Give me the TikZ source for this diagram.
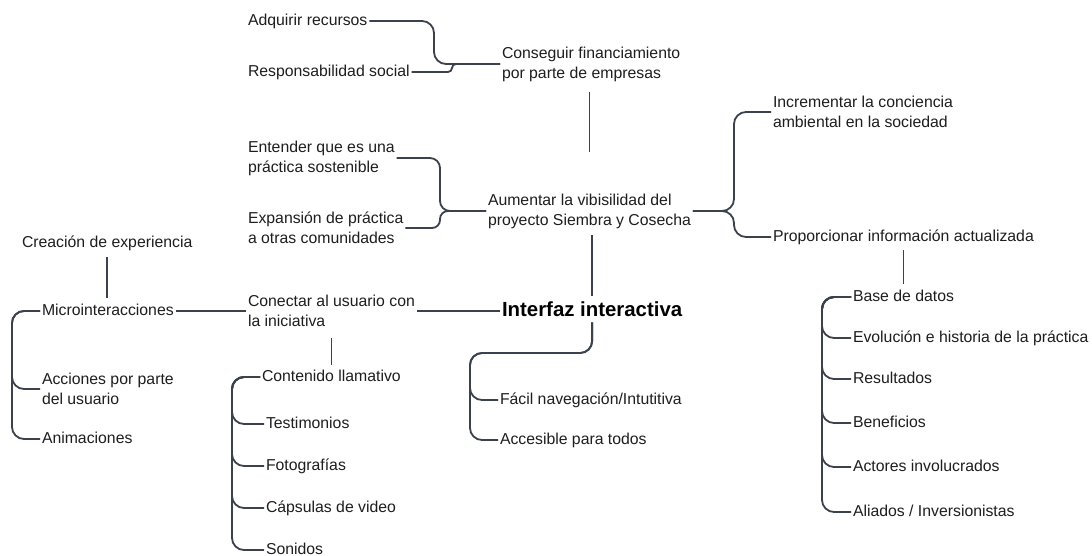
\documentclass[tikz,border=0pt]{standalone}
\usepackage{fontspec}
\setmainfont{Liberation Sans}
\usetikzlibrary{calc}
\definecolor{linkc}{HTML}{3B424C}
\definecolor{txtc}{HTML}{1E1E1E}
\begin{document}
\begin{tikzpicture}[x=1pt,y=-1pt,
  lbl/.style={anchor=west, inner sep=2pt, outer sep=0pt, text=txtc,
    font=\fontsize{15.8}{20}\selectfont, align=left},
  one/.style={lbl, text height=11.4pt, text depth=3.2pt},
  hub/.style={anchor=west, inner sep=2pt, outer sep=0pt, text=black,
    font=\fontsize{20.4}{24}\selectfont\bfseries, text height=14.6pt, text depth=4pt},
  link/.style={draw=linkc, line width=1.8pt, rounded corners=#1},
  link/.default=10pt]
\useasboundingbox[fill=white] (0,0) rectangle (1092,556);

% --- labels ---
\node[one] (adq)   at (246,21)  {Adquirir recursos};
\node[one] (resp)  at (246,72)  {Responsabilidad social};
\node[lbl] (cons)  at (500,64)  {Conseguir financiamiento\\por parte de empresas};
\node[lbl] (ent)   at (246,158) {Entender que es una\\práctica sostenible};
\node[lbl] (exp)   at (246,228) {Expansión de práctica\\a otras comunidades};
\node[lbl] (aum)   at (486,211) {Aumentar la vibisilidad del\\proyecto Siembra y Cosecha};
\node[lbl] (incr)  at (771,112) {Incrementar la conciencia\\ambiental en la sociedad};
\node[one] (prop)  at (771,237) {Proporcionar información actualizada};
\node[one] (crea)  at (20,243)  {Creación de experiencia};
\node[one] (micro) at (40,311)  {Microinteracciones};
\node[lbl] (con)   at (246,311) {Conectar al usuario con\\la iniciativa};
\node[hub] (intf)  at (500,311) {Interfaz interactiva};
\node[lbl] (acc)   at (40,389)  {Acciones por parte\\del usuario};
\node[one] (anim)  at (40,439)  {Animaciones};
\node[one] (cont)  at (260,377) {Contenido llamativo};
\node[one] (test)  at (264,424) {Testimonios};
\node[one] (foto)  at (264,466) {Fotografías};
\node[one] (caps)  at (264,508) {Cápsulas de video};
\node[one] (son)   at (264,550) {Sonidos};
\node[one] (fac)   at (498,400) {Fácil navegación/Intutitiva};
\node[one] (acs)   at (498,440) {Accesible para todos};
\node[one] (base)  at (851,297) {Base de datos};
\node[one] (evo)   at (851,338) {Evolución e historia de la práctica};
\node[one] (res)   at (851,379) {Resultados};
\node[one] (ben)   at (851,423) {Beneficios};
\node[one] (act)   at (851,467) {Actores involucrados};
\node[one] (ali)   at (851,512) {Aliados / Inversionistas};

% --- bracket spines ---
\coordinate (s1)  at (434,0);
\coordinate (s1b) at (452,0);
\coordinate (s2)  at (440,0);
\coordinate (s3)  at (734,0);
\coordinate (s5)  at (822,0);
\coordinate (s6)  at (12,0);
\coordinate (s7)  at (232,0);
\coordinate (s8)  at (470,353);

% --- connectors ---
\draw[link=12pt] (adq.east) -- (adq.east -| s1) |- (cons.west);
\draw[link=4pt]  (resp.east) -- (resp.east -| s1b) |- (cons.west);
\draw[link=10pt] (ent.east) -- (ent.east -| s2) |- (aum.west);
\draw[link=8pt]  (exp.east) -- (exp.east -| s2) |- (aum.west);
\draw[link=12pt] (aum.east) -- (aum.east -| s3) |- (incr.west);
\draw[link=12pt] (aum.east) -- (aum.east -| s3) |- (prop.west);

\draw[link, shorten <=9pt, shorten >=40pt] (aum.north |- cons.south) -- (aum.north);
\draw[link, shorten <=5pt, shorten >=4pt] (aum.south -| intf.north) -- (intf.north);
\draw[link, shorten <=4pt, shorten >=4pt] (prop.south) -- (prop.south |- base.north);
\draw[link, shorten <=5pt, shorten >=4pt] (crea.south) -- (crea.south |- micro.north);
\draw[link, shorten <=9pt, shorten >=3pt] (con.south) -- (con.south |- cont.north);

\draw[link] (micro.east) -- (micro.east -| con.west);
\draw[link] (con.east |- intf.west) -- (intf.west);

\foreach \t in {acc,anim}
  \draw[link=12pt] (micro.west) -- (micro.west -| s6) |- (\t.west);
\foreach \t in {test,foto,caps,son}
  \draw[link=12pt] (cont.west) -- (cont.west -| s7) |- (\t.west);
\foreach \t in {evo,res,ben,act,ali}
  \draw[link=12pt] (base.west) -- (base.west -| s5) |- (\t.west);
\foreach \t in {fac,acs}
  \draw[link=12pt] (intf.south) -- (intf.south |- s8) -- (s8) |- (\t.west);
\end{tikzpicture}
\end{document}
